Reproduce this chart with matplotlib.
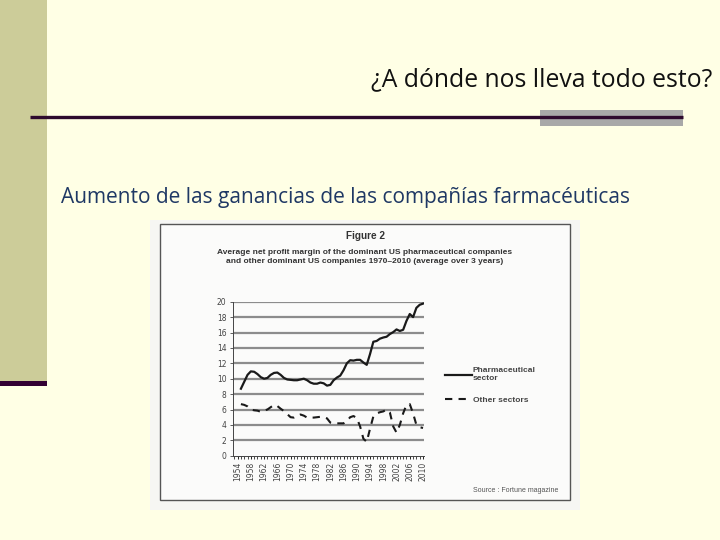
import matplotlib
matplotlib.use('Agg')
import matplotlib.pyplot as plt
from matplotlib.patches import Rectangle

# ===================== DATA =====================
years = list(range(1955, 2011))

pharma = [8.7, 9.6, 10.5, 10.95, 10.9, 10.6, 10.2, 10.0, 10.1, 10.5,
          10.75, 10.8, 10.5, 10.1, 9.9, 9.85, 9.8, 9.8, 9.9, 10.0,
          9.8, 9.5, 9.35, 9.35, 9.5, 9.4, 9.1, 9.2, 9.8, 10.15,
          10.4, 11.1, 12.0, 12.4, 12.35, 12.45, 12.45, 12.1, 11.8, 13.2,
          14.8, 14.9, 15.2, 15.35, 15.45, 15.8, 16.05, 16.4, 16.2, 16.35,
          17.5, 18.4, 18.0, 19.2, 19.6, 19.75]

other = [6.7, 6.6, 6.4, 6.0, 5.9, 5.85, 5.7, 5.85, 6.0, 6.3,
         6.6, 6.45, 6.1, 5.8, 5.4, 5.0, 4.95, 5.2, 5.35, 5.2,
         4.95, 4.95, 4.95, 5.0, 5.05, 5.0, 4.85, 4.3, 4.2, 4.2,
         4.2, 4.2, 4.5, 5.0, 5.15, 4.9, 3.8, 2.2, 1.8, 3.5,
         5.1, 5.5, 5.65, 5.75, 6.0, 5.6, 3.8, 3.0, 4.0, 5.5,
         6.6, 6.7, 5.5, 4.0, 3.7, 3.6]

y_ticks = list(range(0, 21, 2))
x_label_years = list(range(1954, 2011, 4))

slide_title = "¿A dónde nos lleva todo esto?"
slide_subtitle = "Aumento de las ganancias de las compañías farmacéuticas"
fig_label = "Figure 2"
fig_title = ("Average net profit margin of the dominant US pharmaceutical companies\n"
             "and other dominant US companies 1970\u20132010 (average over 3 years)")

# ===================== FIGURE =====================
W, H = 720, 540
fig = plt.figure(figsize=(W / 100, H / 100), dpi=100, facecolor='#FFFFE5')

# slide decoration layer in pixel coords
bg = fig.add_axes([0, 0, 1, 1])
bg.set_xlim(0, W)
bg.set_ylim(H, 0)
bg.axis('off')
bg.add_patch(Rectangle((0, 0), 47, 382, color='#CCCC99', lw=0))
bg.add_patch(Rectangle((0, 381), 47, 5, color='#330033', lw=0))
bg.add_patch(Rectangle((540, 110), 143, 16, color='#A8A8A8', lw=0))
bg.plot([30, 683], [117, 117], color='#2E0A2E', lw=2.4, solid_capstyle='butt')

bg.text(712, 80, slide_title, ha='right', va='center', fontsize=17.8,
        family='Open Sans', color='#111111')
bg.text(61, 197, slide_subtitle, ha='left', va='center', fontsize=15,
        family='Open Sans', color='#1F3864')

# scanned picture
bg.add_patch(Rectangle((150, 220), 430, 290, facecolor='#F6F6F3', edgecolor='none'))
bg.add_patch(Rectangle((160, 224), 410, 276, facecolor='#FBFBFA',
                       edgecolor='#555555', lw=1.0))

cond = ['Liberation Sans', 'DejaVu Sans']
bg.text(365, 236, fig_label, ha='center', va='center', fontsize=7.2,
        family=cond, weight='bold', color='#333333')
bg.text(365, 257, fig_title, ha='center', va='center', fontsize=6.0,
        family=cond, weight='bold', color='#333333', linespacing=1.3)
bg.text(558, 490, "Source : Fortune magazine", ha='right', va='center',
        fontsize=5.0, family=cond, color='#555555')

# ===================== CHART =====================
ax = fig.add_axes([233.3 / W, 1 - 455.7 / H, (424 - 233.3) / W, (455.7 - 301.7) / H])
ax.set_facecolor('none')
ax.set_xlim(1952.7, 2010.3)
ax.set_ylim(0, 20)

for t in y_ticks[1:]:
    ax.axhline(t, color='#8C8C8C', lw=1.6, zorder=1)

ax.plot(years, pharma, color='#1A1A1A', lw=1.6, zorder=3, label='Pharmaceutical\nsector')
ax.plot(years, other, color='#1A1A1A', lw=1.5, ls=(0, (3.5, 3)), zorder=3,
        label='Other sectors')

ax.set_yticks(y_ticks)
ax.set_xticks(x_label_years)
ax.set_xticks(range(1953, 2011), minor=True)
ax.tick_params(axis='y', labelsize=5.5, colors='#444444', length=2, width=0.6, pad=3)
ax.tick_params(axis='x', which='major', labelsize=5.5, labelcolor='#444444',
               length=2.5, width=0.6, rotation=90, pad=2)
ax.tick_params(axis='x', which='minor', length=1.8, width=0.5)
for s in ['top', 'right']:
    ax.spines[s].set_visible(False)
for s in ['left', 'bottom']:
    ax.spines[s].set_color('#444444')
    ax.spines[s].set_linewidth(0.7)

leg = ax.legend(loc='upper left', bbox_to_anchor=(438 / W, 1 - 360 / H),
                bbox_transform=fig.transFigure, frameon=False,
                prop={'family': cond, 'size': 6, 'weight': 'bold'},
                handlelength=3.2, handletextpad=0.1, labelspacing=1.6)
for txt in leg.get_texts():
    txt.set_color('#444444')

plt.savefig('out.png', dpi=100, facecolor=fig.get_facecolor())
plt.close()
